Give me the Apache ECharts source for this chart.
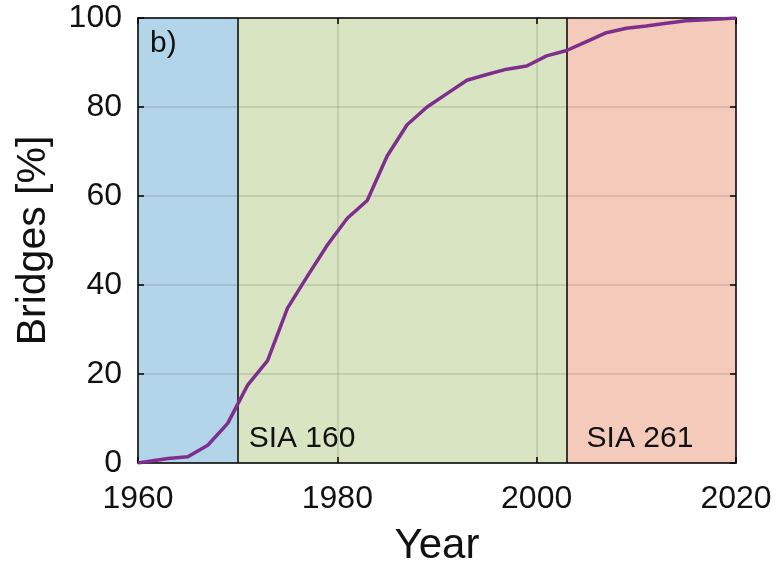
<!DOCTYPE html>
<html><head><meta charset="utf-8">
<script src="https://cdn.jsdelivr.net/npm/echarts@6/dist/echarts.min.js"></script>
<style>html,body{margin:0;padding:0;background:#fff}#c{width:784px;height:563px}</style>
</head><body><div id="c"></div>
<script>
const years = [1960,1963,1965,1967,1969,1971,1973,1975,1977,1979,1981,1983,1985,1987,1989,1991,1993,1995,1997,1999,2001,2003,2005,2007,2009,2011,2013,2015,2017,2020];
const bridges = [0,1,1.4,4,8.9,17.5,23,34.8,42,49,55,59,69,76,80,83,86,87.3,88.5,89.2,91.5,92.7,94.7,96.7,97.7,98.2,98.8,99.4,99.6,100];
const regionBounds = [1960,1970,2003,2020];
const regionLabels = ['', 'SIA 160', 'SIA 261'];
const regionColors = ['#b3d5e9','#d8e4c2','#f4cabb'];
const xTicks = [1960,1980,2000,2020];
const yTicks = [0,20,40,60,80,100];

const FONT = 'Liberation Sans, Arial, sans-serif';
const data = years.map((y,i)=>[y,bridges[i]]);
const areas = [];
for (let i=0;i<regionLabels.length;i++){
  areas.push([{xAxis:regionBounds[i], yAxis:0, itemStyle:{color:regionColors[i], opacity:1}},
    {xAxis:regionBounds[i+1], yAxis:100}]);
}
const labelPad = [0, 11, 20];
const labelData = [];
for (let i=0;i<regionLabels.length;i++){
  if (!regionLabels[i]) continue;
  labelData.push({value:[regionBounds[i], yTicks[0]], name:regionLabels[i],
    label:{position:[labelPad[i], -9]}});
}
const chart = echarts.init(document.getElementById('c'));
const axisCommon = {
  type:'value', z:3,
  axisLine:{show:true, onZero:false, lineStyle:{color:'#000', width:1.5}},
  axisTick:{show:true, inside:true, length:6, lineStyle:{color:'#000', width:1.5}},
  splitLine:{show:false}
};
chart.setOption({
  animation:false,
  title:{text:'b)', left:145, top:24, textStyle:{fontSize:30, fontWeight:'normal', color:'#111', fontFamily:FONT}},
  grid:{left:138, right:48, top:18, bottom:100, containLabel:false, outerBoundsMode:'none'},
  xAxis:[
    Object.assign({}, axisCommon, {min:xTicks[0], max:xTicks[xTicks.length-1], interval:20, position:'bottom',
      name:'Year', nameLocation:'middle', nameGap:62, nameTextStyle:{fontSize:42, color:'#111', fontFamily:FONT},
      axisLabel:{fontSize:32, color:'#111', fontFamily:FONT, margin:20, formatter:v=>String(v)},
      splitLine:{show:true, lineStyle:{color:'rgba(0,0,0,0.13)', width:1.5}}}),
    Object.assign({}, axisCommon, {min:xTicks[0], max:xTicks[xTicks.length-1], interval:20, position:'top', axisLabel:{show:false}})
  ],
  yAxis:[
    Object.assign({}, axisCommon, {min:0, max:100, interval:20, position:'left',
      name:'Bridges [%]', nameLocation:'middle', nameGap:84, nameTextStyle:{fontSize:41, color:'#111', fontFamily:FONT},
      axisLabel:{fontSize:32, color:'#111', fontFamily:FONT, margin:16, formatter:v=>String(v)},
      splitLine:{show:true, lineStyle:{color:'rgba(0,0,0,0.13)', width:1.5}}}),
    Object.assign({}, axisCommon, {min:0, max:100, interval:20, position:'right', axisLabel:{show:false}})
  ],
  series:[
    {type:'line', z:1, data:data, symbol:'none', silent:true, lineStyle:{opacity:0},
     markArea:{silent:true, data:areas}},
    {type:'line', z:5, data:data, symbol:'none', lineStyle:{color:'#7e2f8e', width:3.5},
     markLine:{silent:true, symbol:'none', label:{show:false}, lineStyle:{color:'#000', width:1.5, type:'solid'},
       data:[{xAxis:regionBounds[1]},{xAxis:regionBounds[2]}]}},
    {type:'scatter', z:6, symbolSize:0, silent:true, data:labelData, itemStyle:{opacity:1},
     label:{show:true, formatter:'{b}', align:'left', verticalAlign:'bottom', color:'#111', fontSize:30, fontFamily:FONT}}
  ]
});
</script></body></html>
